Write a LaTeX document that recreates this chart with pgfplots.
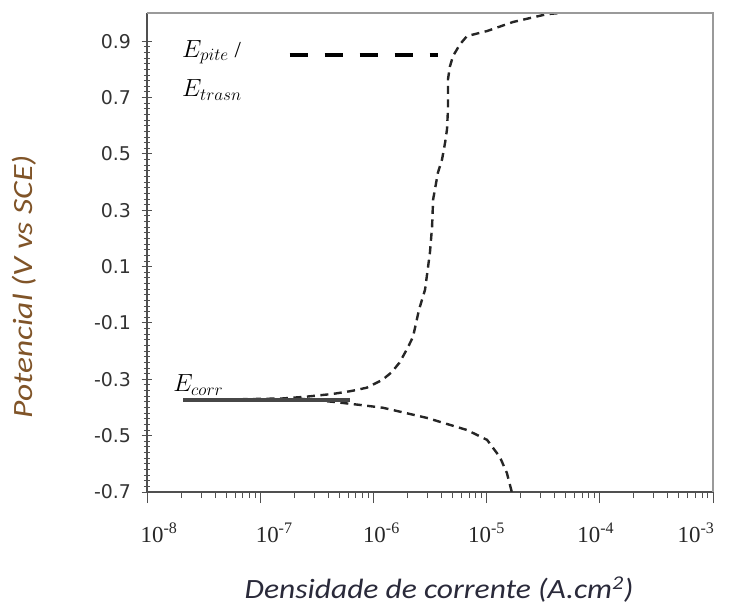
\documentclass[border=0pt]{standalone}
\usepackage{pgfplots}
\pgfplotsset{compat=1.18}
\usepackage{fontspec}
\setmainfont{Liberation Serif}
\newfontfamily\carlito{Carlito}
\newfontfamily\dejavu{DejaVu Sans}
\definecolor{curve}{HTML}{262626}
\definecolor{frame}{HTML}{9A9A9A}
\definecolor{axisc}{HTML}{505050}
\definecolor{ylab}{RGB}{128,84,40}
\definecolor{xlab}{HTML}{2A2A3A}
\begin{document}
\begin{tikzpicture}
\begin{axis}[
  scale only axis, width=566bp, height=479bp,
  xmode=log, xmin=1e-8, xmax=1e-3, ymin=-0.7, ymax=1.0,
  axis x line=bottom, axis y line=left,
  axis line style={-, draw=axisc, line width=1.2bp},
  xtick={1e-8,1e-7,1e-6,1e-5,1e-4,1e-3},
  xticklabels={10\textsuperscript{-8},10\textsuperscript{-7},10\textsuperscript{-6},10\textsuperscript{-5},10\textsuperscript{-4},10\textsuperscript{-3}},
  minor xtick={2e-8,3e-8,4e-8,5e-8,6e-8,7e-8,8e-8,9e-8,
               2e-7,3e-7,4e-7,5e-7,6e-7,7e-7,8e-7,9e-7,
               2e-6,3e-6,4e-6,5e-6,6e-6,7e-6,8e-6,9e-6,
               2e-5,3e-5,4e-5,5e-5,6e-5,7e-5,8e-5,9e-5,
               2e-4,3e-4,4e-4,5e-4,6e-4,7e-4,8e-4,9e-4},
  ytick={-0.7,-0.5,-0.3,-0.1,0.1,0.3,0.5,0.7,0.9},
  yticklabels={-0.7,-0.5,-0.3,-0.1,0.1,0.3,0.5,0.7,0.9},
  minor y tick num=9,
  tick style={draw=axisc, line width=0.9bp},
  major tick length=11bp, minor tick length=6bp,
  x tick style={/pgfplots/tick align=outside},
  y tick style={/pgfplots/tick align=center},
  xticklabel style={font=\fontsize{23}{23}\selectfont, xshift={{12,14,8,0,-4,-17}[\ticknum]*1bp}, yshift=-22bp, text=black!85},
  yticklabel style={font=\dejavu\fontsize{19}{19}\selectfont, xshift=-7bp, text=black!80},
  xlabel={Densidade de corrente (A.cm\textsuperscript{2})},
  ylabel={Potencial (V vs SCE)},
  xlabel style={font=\carlito\itshape\fontsize{28}{28}\selectfont, text=xlab, xscale=1.13,
                at={(axis description cs:0.516,0)}, anchor=base, yshift=-106bp},
  ylabel style={font=\carlito\itshape\fontsize{28}{28}\selectfont, text=ylab, xscale=1.2,
                at={(axis description cs:-0.217,0.428)}, anchor=center},
  clip=false,
]
% anodic branch
\addplot[curve, line width=2.4bp, dash pattern=on 8bp off 5.5bp] coordinates {
(2.19e-8,-0.372) (6.31e-8,-0.371) (1.58e-7,-0.368) (2.51e-7,-0.362)
(4.37e-7,-0.352) (6.31e-7,-0.342) (8.71e-7,-0.330) (1.20e-6,-0.302)
(1.45e-6,-0.275) (1.70e-6,-0.241) (2.00e-6,-0.190) (2.24e-6,-0.149)
(2.53e-6,-0.053) (2.86e-6,0.018) (3.16e-6,0.150) (3.30e-6,0.242)
(3.37e-6,0.338) (3.72e-6,0.434) (4.04e-6,0.480) (4.30e-6,0.540)
(4.47e-6,0.587) (4.56e-6,0.658) (4.56e-6,0.719) (4.56e-6,0.765)
(4.75e-6,0.811) (5.05e-6,0.847) (5.82e-6,0.889) (6.71e-6,0.918)
(1.01e-5,0.936) (1.71e-5,0.968) (3.42e-5,0.996) (4.47e-5,1.000)
};
% cathodic branch
\addplot[curve, line width=2.4bp, dash pattern=on 8bp off 5.5bp] coordinates {
(2.25e-7,-0.369) (4.40e-7,-0.380) (7.62e-7,-0.391) (1.216e-6,-0.401)
(2.97e-6,-0.437) (6.71e-6,-0.480) (1.01e-5,-0.515) (1.31e-5,-0.576)
(1.51e-5,-0.632) (1.67e-5,-0.700)
};
% Ecorr line
\addplot[curve!85, line width=3.6bp] coordinates {(2.09e-8,-0.374) (6.2e-7,-0.374)};
% Epite line
\addplot[black, line width=4bp, dash pattern=on 18bp off 17bp] coordinates {(1.82e-7,0.85) (3.75e-6,0.85)};
\draw[frame, line width=1.8bp] (rel axis cs:0,1) -- (rel axis cs:1,1) -- (rel axis cs:1,0);
\node[anchor=base west, inner sep=0pt, font=\fontsize{23}{23}\selectfont] at (axis cs:2.04e-8,0.843) {$E_{pite}$ /};
\node[anchor=base west, inner sep=0pt, font=\fontsize{23}{23}\selectfont] at (axis cs:2.04e-8,0.704) {$E_{trasn}$};
\node[anchor=base west, inner sep=0pt, font=\fontsize{23}{23}\selectfont] at (axis cs:1.7e-8,-0.344) {$E_{corr}$};
\end{axis}
\path[use as bounding box] ([shift={(-147bp,-118bp)}]current axis.south west) rectangle ([shift={(20bp,13bp)}]current axis.north east);
\end{tikzpicture}
\end{document}
